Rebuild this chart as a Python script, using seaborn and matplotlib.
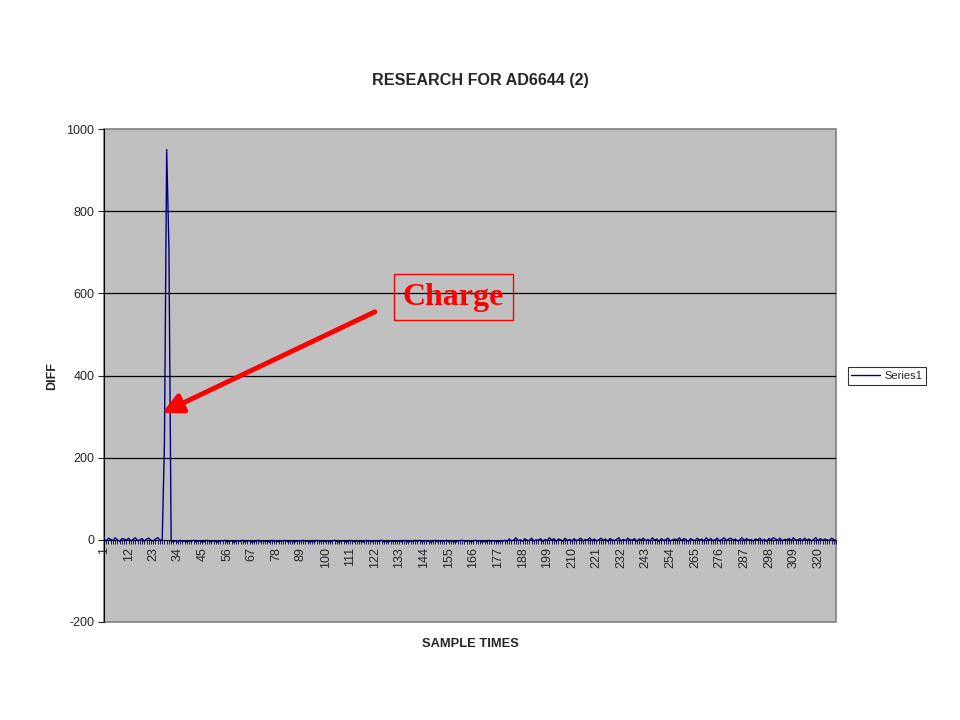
import matplotlib
matplotlib.use("Agg")
import matplotlib.pyplot as plt
from matplotlib.patches import Rectangle
from matplotlib.ticker import FixedLocator, FixedFormatter
import pandas as pd
import seaborn as sns

TITLE = "RESEARCH FOR AD6644 (2)"
X_LABEL = "SAMPLE TIMES"
Y_LABEL = "DIFF"
SERIES = "Series1"

# values, sample 1..328
PRE = [2, -3, 4, 1, -2, 5, 0, -4, 3, 2, -1, 4, -3, 1, 5, -2, 0, 3, -4, 2,
       4, -1, -3, 2, 5, 0, -2]
SPIKE = [235, 950, 710]
POST = [
    -3, -5, -2, -6, -1, -4, -3, -5, -2, -4,
    -1, -5, -3, -2, -6, -4, -1, -3, -5, -2,
    -4, -6, -2, -3, -1, -5, -4, -2, -6, -3,
    -2, -4, -1, -5, -3, -2, -6, -4, -3, -1,
    -5, -2, -4, -3, -6, -1, -4, -2, -5, -3,
    -3, -1, -5, -4, -2, -6, -3, -2, -4, -1,
    -4, -3, -6, -2, -5, -1, -3, -4, -2, -5,
    -2, -5, -3, -1, -4, -6, -2, -3, -5, -4,
    -1, -3, -5, -2, -4, -3, -6, -1, -4, -2,
    -5, -2, -3, -4, -1, -5, -3, -6, -2, -4,
    -3, -4, -2, -5, -1, -3, -6, -2, -4, -1,
    -4, -1, -5, -3, -2, -4, -6, -3, -1, -5,
    -2, -4, -3, -1, -5, -2, -4, -6, -3, -2,
    -1, -3, -4, -2, -5, -3, -1, -4, -2, -6,
    -3, -5, -1, -4, -2, -3, -5, -2, -4, -1,
    -4, 2, -3, -1, 5, -2, 0, -4, 3, -1,
    -2, 4, -3, 0, -1, 3, -4, 1, -2, 5,
    -1, 3, -4, 2, 0, -3, 4, -2, 1, -3,
    3, -2, 0, 4, -3, 1, -1, 5, -2, 2,
    -3, 0, 4, -1, 2, -4, 3, 0, -2, 1,
    5, -3, 1, -2, 4, 0, -1, 3, -4, 2,
    0, 4, -2, 1, -3, 5, -1, 2, -4, 3,
    -2, 1, 4, -3, 0, 2, -1, 5, -2, 3,
    1, -4, 3, 0, -2, 4, -1, 2, -3, 5,
    -1, 3, -2, 0, 4, -3, 1, 5, -2, 2,
    4, -1, 2, -3, 0, 5, -2, 3, -1, 1,
    -3, 2, 0, 4, -2, 1, -4, 3, 0, 5,
    2, -1, 4, -3, 1, 0, 3, -2, 5, -1,
    0, 3, -2, 4, -1, 2, -3, 1, 5, -2,
    3, -1, 2, 0, -2, 4, 1, -3,
]
DIFF = PRE + SPIKE + POST
SAMPLES = list(range(1, len(DIFF) + 1))

X_TICKS = list(range(1, 321, 11))
Y_TICKS = [-200, 0, 200, 400, 600, 800, 1000]

ANNOT_TEXT = "Charge"
ANNOT_TEXT_POS = (157, 591)
ARROW_TAIL = (122, 555)
ARROW_HEAD = (27, 309)


def main():
    df = pd.DataFrame({X_LABEL: SAMPLES, Y_LABEL: DIFF})

    sns.set_style("white")
    plt.rcParams["font.family"] = ["Liberation Sans", "DejaVu Sans"]

    fig = plt.figure(figsize=(9.6, 7.2), dpi=100)
    ax = fig.add_axes([104 / 960, 1 - 622 / 720, (836 - 104) / 960, (622 - 129) / 720])
    ax.set_facecolor("#C0C0C0")

    for y in Y_TICKS[2:-1]:
        ax.axhline(y, color="black", lw=0.9, zorder=1)

    sns.lineplot(data=df, x=X_LABEL, y=Y_LABEL, color="#000080", lw=1.0,
                 label=SERIES, ax=ax, zorder=3)

    ax.set_xlim(1, len(DIFF))
    ax.set_ylim(-200, 1000)
    ax.set_xlabel("")
    ax.set_ylabel("")

    # Excel-style: category axis crosses at zero
    ax.spines["bottom"].set_position(("data", 0))
    ax.spines["bottom"].set_color("black")
    ax.spines["left"].set_color("black")
    for s in ("top", "right"):
        ax.spines[s].set_visible(False)
    ax.add_patch(Rectangle((0, 0), 1, 1, transform=ax.transAxes, fill=False,
                           ec="#808080", lw=1.2, zorder=0.5, clip_on=False))

    ax.yaxis.set_major_locator(FixedLocator(Y_TICKS))
    ax.yaxis.set_major_formatter(FixedFormatter([str(v) for v in Y_TICKS]))
    ax.xaxis.set_major_locator(FixedLocator(X_TICKS))
    ax.xaxis.set_major_formatter(FixedFormatter([str(v) for v in X_TICKS]))
    ax.xaxis.set_minor_locator(FixedLocator(SAMPLES))
    ax.tick_params(axis="x", which="both", direction="out", length=3, width=0.6,
                   color="#000040", pad=2, bottom=True)
    ax.tick_params(axis="x", which="major", labelrotation=90, labelsize=9)
    ax.tick_params(axis="y", direction="out", length=4, width=0.8, left=True,
                   pad=3, labelsize=9)

    # annotation
    ax.annotate("", xy=ARROW_HEAD, xytext=ARROW_TAIL,
                arrowprops=dict(arrowstyle="-|>,head_length=1.0,head_width=0.5",
                                color="#FF0000", lw=3.5, mutation_scale=12,
                                shrinkA=0, shrinkB=0), zorder=5)
    ax.text(*ANNOT_TEXT_POS, ANNOT_TEXT, color="#FF0000", fontsize=23,
            fontweight="bold", family=["Liberation Serif", "DejaVu Serif"],
            ha="center", va="center", zorder=5,
            bbox=dict(boxstyle="square,pad=0.28", fc="none", ec="#FF0000", lw=1))

    leg = ax.legend(loc="center", bbox_to_anchor=(887 / 960, 1 - 376 / 720),
                    bbox_transform=fig.transFigure, fontsize=8, frameon=True,
                    fancybox=False, edgecolor="black", handlelength=2.6,
                    borderpad=0.35, handletextpad=0.4)
    leg.get_frame().set_linewidth(0.8)
    leg.get_frame().set_facecolor("white")

    fig.text(480 / 960, 1 - 80 / 720, TITLE, ha="center", va="center",
             fontsize=11.6, fontweight="bold")
    fig.text(470 / 960, 1 - 644 / 720, X_LABEL, ha="center", va="center",
             fontsize=9.3, fontweight="bold")
    fig.text(52 / 960, 1 - 376 / 720, Y_LABEL, ha="center", va="center",
             rotation=90, fontsize=9, fontweight="bold")

    fig.savefig("out.png", dpi=100)
    plt.close(fig)


if __name__ == "__main__":
    main()
